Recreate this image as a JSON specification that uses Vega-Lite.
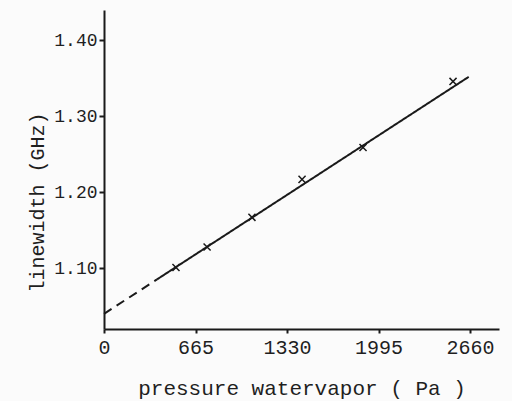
{
  "$schema": "https://vega.github.io/schema/vega-lite/v6.json",
  "autosize": {"type": "none"},
  "padding": {"left": 104, "top": 10, "right": 13, "bottom": 72},
  "width": 395,
  "height": 319,
  "background": "#fbfbfb",
  "config": {
    "view": {"stroke": null},
    "font": "Liberation Mono",
    "axis": {
      "grid": false,
      "domainColor": "#1a1a1a",
      "domainWidth": 2,
      "tickColor": "#1a1a1a",
      "tickWidth": 2,
      "labelColor": "#1f1f1f",
      "titleColor": "#1f1f1f",
      "labelFont": "Liberation Mono",
      "titleFont": "Liberation Mono",
      "titleFontWeight": "normal"
    }
  },
  "datasets": {
    "points": [
      {"pressure": 523, "linewidth": 1.101},
      {"pressure": 749, "linewidth": 1.128},
      {"pressure": 1075, "linewidth": 1.167},
      {"pressure": 1439, "linewidth": 1.217},
      {"pressure": 1882, "linewidth": 1.259},
      {"pressure": 2536, "linewidth": 1.346}
    ],
    "fit": [
      {"pressure": 0, "linewidth": 1.04, "part": "extrapolated"},
      {"pressure": 385, "linewidth": 1.0853, "part": "extrapolated"},
      {"pressure": 385, "linewidth": 1.0853, "part": "fit"},
      {"pressure": 2650, "linewidth": 1.352, "part": "fit"}
    ]
  },
  "layer": [
    {
      "data": {"name": "fit"},
      "mark": {"type": "line", "color": "#1a1a1a", "strokeWidth": 2},
      "encoding": {
        "x": {
          "field": "pressure", "type": "quantitative",
          "scale": {"domain": [0, 2870], "nice": false},
          "axis": {
            "values": [0, 665, 1330, 1995, 2660],
            "format": "d",
            "labelFlush": false,
            "title": "pressure watervapor ( Pa )",
            "labelFontSize": 20,
            "titleFontSize": 21,
            "tickSize": 4,
            "labelPadding": 4,
            "titlePadding": 20
          }
        },
        "y": {
          "field": "linewidth", "type": "quantitative",
          "scale": {"domain": [1.02, 1.44], "nice": false, "zero": false},
          "axis": {
            "values": [1.1, 1.2, 1.3, 1.4],
            "format": ".2f",
            "title": "linewidth (GHz)",
            "labelFontSize": 18,
            "titleFontSize": 20,
            "tickSize": 5,
            "labelPadding": 2,
            "titlePadding": 6,
            "titleY": 192
          }
        },
        "detail": {"field": "part"},
        "strokeDash": {
          "field": "part", "type": "nominal",
          "scale": {"domain": ["fit", "extrapolated"], "range": [[1, 0], [9, 6]]},
          "legend": null
        }
      }
    },
    {
      "data": {"name": "points"},
      "mark": {
        "type": "point",
        "shape": "M-1,-1L1,1M-1,1L1,-1",
        "size": 50,
        "stroke": "#1a1a1a",
        "strokeWidth": 1.5,
        "filled": false,
        "opacity": 1
      },
      "encoding": {
        "x": {"field": "pressure", "type": "quantitative"},
        "y": {"field": "linewidth", "type": "quantitative"}
      }
    }
  ]
}
